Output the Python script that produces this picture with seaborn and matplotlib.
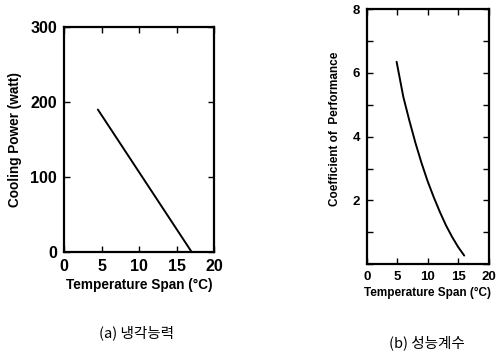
import matplotlib
matplotlib.use('Agg')
import matplotlib.pyplot as plt
import seaborn as sns
import pandas as pd
from matplotlib.ticker import MultipleLocator

# (a) cooling power vs temperature span
span_a = [4.5, 17.0]
power_a = [190, 0]

# (b) coefficient of performance vs temperature span
span_b = [4.9, 6.0, 7.0, 8.0, 9.0, 10.0, 11.0, 12.0, 13.0, 14.0, 15.0, 16.0]
cop_b = [6.35, 5.25, 4.5, 3.8, 3.17, 2.6, 2.1, 1.64, 1.22, 0.86, 0.54, 0.27]

x_label = 'Temperature Span (°C)'
captions = ['(a) 냉각능력', '(b) 성능계수']

sns.set_style('ticks')
plt.rcParams['font.family'] = ['Liberation Sans', 'DejaVu Sans']
plt.rcParams['text.color'] = 'black'
plt.rcParams['axes.labelcolor'] = 'black'
plt.rcParams['xtick.color'] = 'black'
plt.rcParams['ytick.color'] = 'black'

fig = plt.figure(figsize=(4.97, 3.56), dpi=100)
ax1 = fig.add_axes([0.129, 0.292, 0.302, 0.632])
ax2 = fig.add_axes([0.738, 0.258, 0.245, 0.716])

df_a = pd.DataFrame({'span': span_a, 'power': power_a})
sns.lineplot(data=df_a, x='span', y='power', ax=ax1, color='black', lw=1.4)
ax1.set_xlim(0, 20)
ax1.set_ylim(0, 300)
ax1.xaxis.set_major_locator(MultipleLocator(5))
ax1.yaxis.set_major_locator(MultipleLocator(100))
ax1.set_xlabel(x_label, fontsize=9.8, labelpad=3, fontweight='bold')
ax1.set_ylabel('Cooling Power (watt)', fontsize=9.8, labelpad=6, fontweight='bold')
ax1.tick_params(direction='in', length=4, width=1, top=True, right=True,
                labelsize=11.5, pad=5)

df_b = pd.DataFrame({'span': span_b, 'cop': cop_b})
sns.lineplot(data=df_b, x='span', y='cop', ax=ax2, color='black', lw=1.4)
ax2.set_xlim(0, 20)
ax2.set_ylim(0, 8)
ax2.xaxis.set_major_locator(MultipleLocator(5))
ax2.yaxis.set_minor_locator(MultipleLocator(1))
ax2.set_yticks([2, 4, 6, 8])
ax2.set_xlabel(x_label, fontsize=8.5, labelpad=3, fontweight='bold')
ax2.set_ylabel('Coefficient of  Performance', fontsize=8.5, labelpad=8,
               fontweight='bold', y=0.53)
ax2.tick_params(which='both', direction='in', length=4, width=1, top=True,
                right=True, labelsize=9.5, pad=5)

for ax in (ax1, ax2):
    for lbl in ax.get_xticklabels() + ax.get_yticklabels():
        lbl.set_fontweight('bold')
    for sp in ax.spines.values():
        sp.set_linewidth(1.6)
        sp.set_color('black')

fig.text(0.274, 1 - 333 / 356, captions[0], ha='center', va='center', fontsize=10.5,
         family=['Noto Sans CJK KR', 'DejaVu Sans'])
fig.text(0.859, 1 - 343 / 356, captions[1], ha='center', va='center', fontsize=10.5,
         family=['Noto Sans CJK KR', 'DejaVu Sans'])

fig.savefig('out.png', dpi=100)
